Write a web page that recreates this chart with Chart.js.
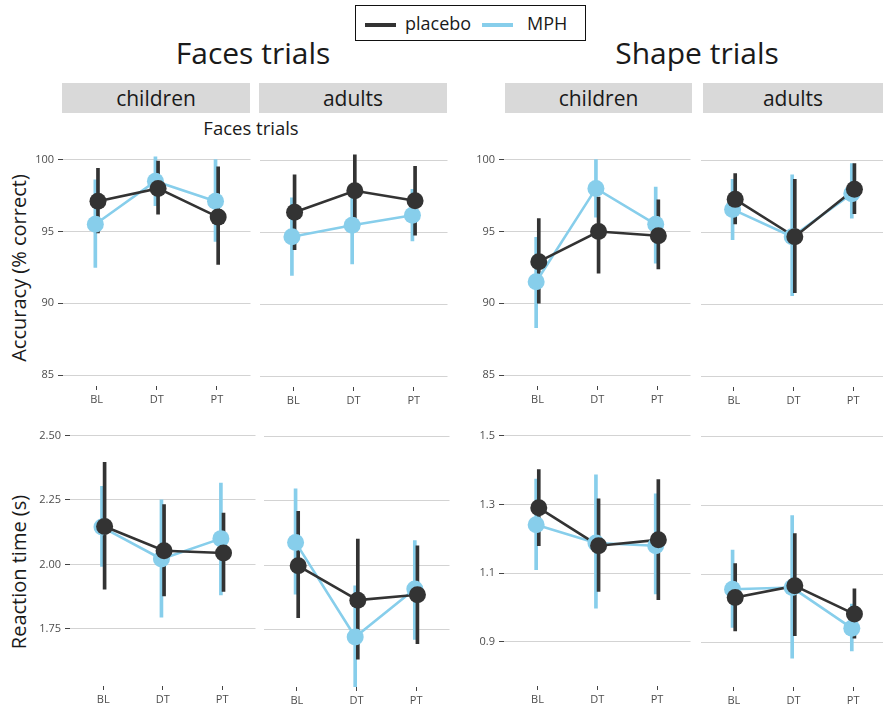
<!DOCTYPE html>
<html>
<head>
<meta charset="utf-8">
<script src="https://cdn.jsdelivr.net/npm/chart.js@4/dist/chart.umd.min.js"></script>
<style>
  html, body { margin: 0; padding: 0; background: #fff; }
  body { width: 883px; height: 711px; overflow: hidden; position: relative; font-family: 'Open Sans', sans-serif; color: #1a1a1a; }
  .abs { position: absolute; white-space: nowrap; }
  .center { transform: translate(-50%, -50%); }
  .strip { position: absolute; background: #d9d9d9; height: 30px; line-height: 30px; text-align: center; font-size: 21px; color: #1a1a1a; }
  .legend { position: absolute; left: 355px; top: 5px; width: 229px; height: 34px; border: 1.5px solid #111; font-size: 18px; }
  .key { position: absolute; top: 17px; height: 4px; width: 31px; }
  .ytitle { position: absolute; font-size: 20px; transform: translate(-50%, -50%) rotate(-90deg); white-space: nowrap; }
</style>
</head>
<body>

<div class="legend">
  <div class="key" style="left:9px;background:#333333"></div>
  <div class="abs" style="left:49px;top:5px">placebo</div>
  <div class="key" style="left:126px;background:#87CEEB"></div>
  <div class="abs" style="left:171px;top:5px">MPH</div>
</div>

<div class="abs center" style="left:253px;top:52px;font-size:30px">Faces trials</div>
<div class="abs center" style="left:697px;top:52px;font-size:30px">Shape trials</div>

<div class="strip" style="left:62px;top:83px;width:188px">children</div>
<div class="strip" style="left:259px;top:83px;width:188px">adults</div>
<div class="strip" style="left:505px;top:83px;width:187px">children</div>
<div class="strip" style="left:703px;top:83px;width:180px">adults</div>

<div class="abs center" style="left:251px;top:127px;font-size:18.5px">Faces trials</div>

<div class="ytitle" style="left:18px;top:268px">Accuracy (% correct)</div>
<div class="ytitle" style="left:18px;top:572px">Reaction time (s)</div>

<script>
// Session phases on the x axis
const phases = ['BL', 'DT', 'PT'];

// Y tick values
const accTicks = [85, 90, 95, 100];
const rtFacesTicks = [1.75, 2.00, 2.25, 2.50];
const rtShapeTicks = [0.9, 1.1, 1.3, 1.5];

// Accuracy (% correct) - faces trials, children
const accFacesChildPlacebo   = [97.1, 98.0, 96.0];
const accFacesChildPlaceboCI = [[94.9, 99.4], [96.2, 99.9], [92.7, 99.5]];
const accFacesChildMPH       = [95.5, 98.5, 97.1];
const accFacesChildMPHCI     = [[92.5, 98.6], [96.8, 100.2], [94.3, 100.0]];

// Accuracy - faces trials, adults
const accFacesAdultPlacebo   = [96.4, 97.9, 97.2];
const accFacesAdultPlaceboCI = [[93.8, 99.0], [95.3, 100.4], [94.8, 99.6]];
const accFacesAdultMPH       = [94.7, 95.5, 96.2];
const accFacesAdultMPHCI     = [[92.0, 97.4], [92.8, 98.3], [94.4, 98.0]];

// Accuracy - shape trials, children
const accShapeChildPlacebo   = [92.9, 95.0, 94.7];
const accShapeChildPlaceboCI = [[90.0, 95.9], [92.1, 97.4], [92.4, 97.2]];
const accShapeChildMPH       = [91.5, 98.0, 95.5];
const accShapeChildMPHCI     = [[88.3, 94.6], [96.0, 100.0], [92.8, 98.1]];

// Accuracy - shape trials, adults
const accShapeAdultPlacebo   = [97.3, 94.7, 98.0];
const accShapeAdultPlaceboCI = [[95.6, 99.1], [90.8, 98.7], [96.3, 99.8]];
const accShapeAdultMPH       = [96.6, 94.7, 97.7];
const accShapeAdultMPHCI     = [[94.5, 98.7], [90.6, 99.0], [96.0, 99.8]];

// Reaction time (s) - faces trials, children
const rtFacesChildPlacebo   = [2.147, 2.053, 2.044];
const rtFacesChildPlaceboCI = [[1.904, 2.396], [1.878, 2.232], [1.895, 2.199]];
const rtFacesChildMPH       = [2.145, 2.021, 2.100];
const rtFacesChildMPHCI     = [[1.992, 2.303], [1.795, 2.251], [1.882, 2.316]];

// Reaction time - faces trials, adults
const rtFacesAdultPlacebo   = [1.998, 1.865, 1.886];
const rtFacesAdultPlaceboCI = [[1.797, 2.210], [1.636, 2.102], [1.696, 2.076]];
const rtFacesAdultMPH       = [2.089, 1.722, 1.908];
const rtFacesAdultMPHCI     = [[1.888, 2.297], [1.525, 1.921], [1.713, 2.096]];

// Reaction time - shape trials, children
const rtShapeChildPlacebo   = [1.290, 1.180, 1.197];
const rtShapeChildPlaceboCI = [[1.180, 1.401], [1.047, 1.316], [1.023, 1.372]];
const rtShapeChildMPH       = [1.241, 1.188, 1.180];
const rtShapeChildMPHCI     = [[1.110, 1.374], [0.998, 1.386], [1.040, 1.331]];

// Reaction time - shape trials, adults
const rtShapeAdultPlacebo   = [1.032, 1.066, 0.984];
const rtShapeAdultPlaceboCI = [[0.935, 1.131], [0.921, 1.218], [0.914, 1.057]];
const rtShapeAdultMPH       = [1.056, 1.061, 0.943];
const rtShapeAdultMPHCI     = [[0.945, 1.170], [0.856, 1.270], [0.877, 1.013]];

const DARK = '#333333';
const BLUE = '#87CEEB';
const DODGE = 0.022;

const fmtInt = v => String(v);
const fmt2 = v => v.toFixed(2);
const fmt1 = v => v.toFixed(1);

// Each facet: data, y range, and plot-area box [left, right, top, bottom]
const panels = [
  { pl: accFacesChildPlacebo, plCI: accFacesChildPlaceboCI, mph: accFacesChildMPH, mphCI: accFacesChildMPHCI,
    ticks: accTicks, fmt: fmtInt, min: 84.24, max: 101.05, box: [63, 250, 145, 386], labels: true },
  { pl: accFacesAdultPlacebo, plCI: accFacesAdultPlaceboCI, mph: accFacesAdultMPH, mphCI: accFacesAdultMPHCI,
    ticks: accTicks, fmt: fmtInt, min: 84.24, max: 101.05, box: [259, 447, 145, 386], labels: false },
  { pl: accShapeChildPlacebo, plCI: accShapeChildPlaceboCI, mph: accShapeChildMPH, mphCI: accShapeChildMPHCI,
    ticks: accTicks, fmt: fmtInt, min: 84.24, max: 101.05, box: [504, 690, 145, 386], labels: true },
  { pl: accShapeAdultPlacebo, plCI: accShapeAdultPlaceboCI, mph: accShapeAdultMPH, mphCI: accShapeAdultMPHCI,
    ticks: accTicks, fmt: fmtInt, min: 84.24, max: 101.05, box: [700, 886, 145, 386], labels: false },

  { pl: rtFacesChildPlacebo, plCI: rtFacesChildPlaceboCI, mph: rtFacesChildMPH, mphCI: rtFacesChildMPHCI,
    ticks: rtFacesTicks, fmt: fmt2, min: 1.528, max: 2.562, box: [70, 255, 420, 686], labels: true },
  { pl: rtFacesAdultPlacebo, plCI: rtFacesAdultPlaceboCI, mph: rtFacesAdultMPH, mphCI: rtFacesAdultMPHCI,
    ticks: rtFacesTicks, fmt: fmt2, min: 1.528, max: 2.562, box: [263, 449, 420, 686], labels: false },
  { pl: rtShapeChildPlacebo, plCI: rtShapeChildPlaceboCI, mph: rtShapeChildMPH, mphCI: rtShapeChildMPHCI,
    ticks: rtShapeTicks, fmt: fmt1, min: 0.772, max: 1.5466, box: [504, 690, 420, 686], labels: true },
  { pl: rtShapeAdultPlacebo, plCI: rtShapeAdultPlaceboCI, mph: rtShapeAdultMPH, mphCI: rtShapeAdultMPHCI,
    ticks: rtShapeTicks, fmt: fmt1, min: 0.772, max: 1.5466, box: [700, 886, 420, 686], labels: false }
];

const tickFont = { family: "'Open Sans', sans-serif", size: 11 };

function panelConfig(p, yw, xh) {
  const pts = (vals, dx) => vals.map((v, i) => ({ x: i + 1 + dx, y: v }));
  const bars = (ci, dx) => ci.map((r, i) => ({ x: i + 1 + dx, y: r }));
  const errBar = (ci, dx, color, order) => ({
    type: 'bar', data: bars(ci, dx), backgroundColor: color, borderWidth: 0,
    barThickness: 3, grouped: false, order
  });
  const line = (vals, dx, color, order) => ({
    data: pts(vals, dx), borderColor: color, borderWidth: 2.6, pointRadius: 0,
    tension: 0, fill: false, order
  });
  const dots = (vals, dx, color, order) => ({
    data: pts(vals, dx), showLine: false, pointRadius: 8.5, pointBackgroundColor: color,
    pointBorderWidth: 0, pointBorderColor: color, order
  });

  return {
    type: 'line',
    data: {
      datasets: [
        errBar(p.mphCI, -DODGE, BLUE, 6),
        errBar(p.plCI, DODGE, DARK, 5),
        line(p.mph, -DODGE, BLUE, 4),
        line(p.pl, DODGE, DARK, 3),
        dots(p.mph, -DODGE, BLUE, 2),
        dots(p.pl, DODGE, DARK, 1)
      ]
    },
    options: {
      responsive: false,
      maintainAspectRatio: false,
      animation: false,
      devicePixelRatio: 1,
      layout: { padding: 0 },
      plugins: { legend: { display: false }, tooltip: { enabled: false } },
      scales: {
        x: {
          type: 'linear', min: 0.44, max: 3.56, offset: false,
          border: { display: false },
          grid: { offset: false, drawOnChartArea: false, drawTicks: true, tickLength: 4, tickColor: '#444', tickWidth: 1 },
          ticks: { padding: 3, color: '#4d4d4d', font: tickFont, maxRotation: 0,
                   callback: v => phases[v - 1] },
          afterBuildTicks: s => { s.ticks = phases.map((_, i) => ({ value: i + 1 })); },
          afterFit: s => { s.height = xh; }
        },
        y: {
          type: 'linear', min: p.min, max: p.max,
          border: { display: false },
          grid: { offset: false, color: '#d3d3d3', lineWidth: 1, drawTicks: p.labels, tickLength: 5, tickColor: '#444', tickWidth: 1 },
          ticks: { display: p.labels, padding: 4, color: '#4d4d4d', font: tickFont,
                   callback: v => p.fmt(v) },
          afterBuildTicks: s => { s.ticks = p.ticks.map(v => ({ value: v })); },
          afterFit: s => { s.width = yw; }
        }
      }
    }
  };
}

function makePanel(p) {
  const [L, R, T, B] = p.box;
  const yw = p.labels ? 60 : 0;
  const xh = 26;
  const canvas = document.createElement('canvas');
  canvas.width = R - L + yw;
  canvas.height = B - T + xh;
  canvas.style.position = 'absolute';
  document.body.appendChild(canvas);

  // First pass: find how much room the axes take, then size the canvas so the
  // plotting area covers exactly the facet box.
  let chart = new Chart(canvas, panelConfig(p, yw, xh));
  const ca = chart.chartArea;
  const w = canvas.width + (R - L) - (ca.right - ca.left);
  const h = canvas.height + (B - T) - (ca.bottom - ca.top);
  chart.destroy();
  canvas.width = Math.round(w);
  canvas.height = Math.round(h);
  canvas.style.width = canvas.width + 'px';
  canvas.style.height = canvas.height + 'px';
  chart = new Chart(canvas, panelConfig(p, yw, xh));
  const ca2 = chart.chartArea;
  canvas.style.left = (L - ca2.left) + 'px';
  canvas.style.top = (T - ca2.top) + 'px';
}

panels.forEach(makePanel);
</script>
</body>
</html>
